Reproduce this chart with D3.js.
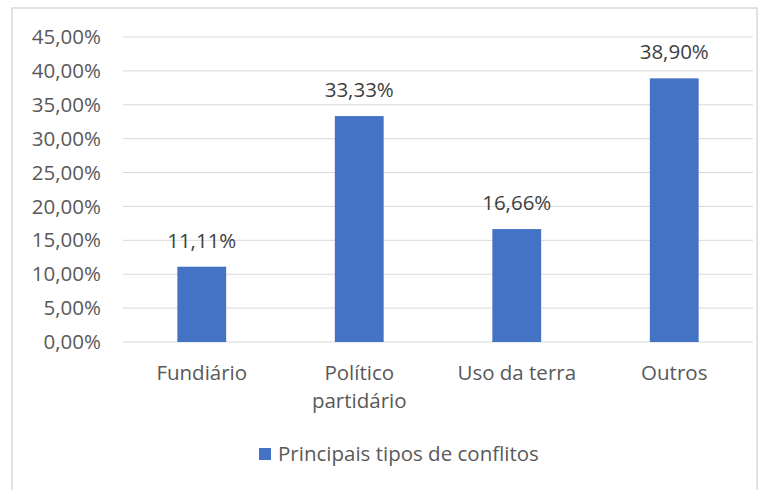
<!DOCTYPE html>
<html>
<head>
<meta charset="utf-8">
<script src="https://cdn.jsdelivr.net/npm/d3@7"></script>
<style>
  body { margin: 0; background: #fff; }
  text { font-family: "Open Sans", sans-serif; }
</style>
</head>
<body>
<svg></svg>
<script>
const categories = ["Fundiário", "Político partidário", "Uso da terra", "Outros"];
const values = [11.11, 33.33, 16.66, 38.90];
const yTicks = [0, 5, 10, 15, 20, 25, 30, 35, 40, 45];
const seriesName = "Principais tipos de conflitos";

const width = 771, height = 490;
const margin = ({ top: 37, right: 18, bottom: 148, left: 123 });
const fontSize = 20.5;

const svg = d3.select("svg")
    .attr("width", width)
    .attr("height", height);

// chart frame
svg.append("rect")
    .attr("x", 12).attr("y", 8)
    .attr("width", 745).attr("height", 490)
    .attr("fill", "#fff")
    .attr("stroke", "#d9d9d9")
    .attr("stroke-width", 1.5);

const x = d3.scaleBand()
    .domain(categories)
    .range([margin.left, width - margin.right])
    .paddingInner(0.69)
    .paddingOuter(0.345);

const y = d3.scaleLinear()
    .domain([0, 45])
    .range([height - margin.bottom, margin.top]);

const fmt = v => d3.format(".2f")(v).replace(".", ",") + "%";

// gridlines
svg.append("g")
    .selectAll("line").data(yTicks).enter().append("line")
    .attr("x1", margin.left)
    .attr("x2", width - margin.right)
    .attr("y1", d => y(d))
    .attr("y2", d => y(d))
    .attr("stroke", "#d9d9d9")
    .attr("stroke-width", 1);

const yAxis = g => g
    .attr("transform", `translate(${margin.left},0)`)
    .call(d3.axisLeft(y).tickValues(yTicks).tickFormat(fmt).tickSize(0).tickPadding(22))
    .call(g => g.select(".domain").remove())
    .call(g => g.selectAll("text")
        .attr("font-family", "Open Sans")
        .attr("font-size", fontSize)
        .attr("fill", "#595959"));

svg.append("g").call(yAxis);

// bars
svg.append("g")
    .selectAll("rect").data(values).enter().append("rect")
    .attr("x", (d, i) => x(categories[i]))
    .attr("y", d => y(d))
    .attr("width", x.bandwidth())
    .attr("height", d => y(0) - y(d))
    .attr("fill", "#4472c4");

// data labels
svg.append("g")
    .selectAll("text").data(values).enter().append("text")
    .attr("x", (d, i) => x(categories[i]) + x.bandwidth() / 2)
    .attr("y", d => y(d) - 19)
    .attr("text-anchor", "middle")
    .attr("font-size", fontSize)
    .attr("fill", "#404040")
    .text(fmt);

// category labels (wrapped like the original)
const catLines = [["Fundiário"], ["Político", "partidário"], ["Uso da terra"], ["Outros"]];
const xl = svg.append("g")
    .selectAll("text").data(categories).enter().append("text")
    .attr("x", d => x(d) + x.bandwidth() / 2)
    .attr("y", y(0) + 38)
    .attr("text-anchor", "middle")
    .attr("font-size", fontSize)
    .attr("fill", "#595959");

xl.selectAll("tspan")
    .data((d, i) => catLines[i])
    .enter().append("tspan")
    .attr("x", function () { return d3.select(this.parentNode).attr("x"); })
    .attr("dy", (d, i) => i === 0 ? 0 : 28)
    .text(d => d);

// legend
const legend = svg.append("g")
    .attr("transform", "translate(259,448)");

legend.append("rect")
    .attr("width", 12)
    .attr("height", 12)
    .attr("fill", "#4472c4");

legend.append("text")
    .attr("x", 19)
    .attr("y", 6)
    .attr("dy", "0.35em")
    .attr("font-size", fontSize)
    .attr("fill", "#595959")
    .text(seriesName);
</script>
</body>
</html>
